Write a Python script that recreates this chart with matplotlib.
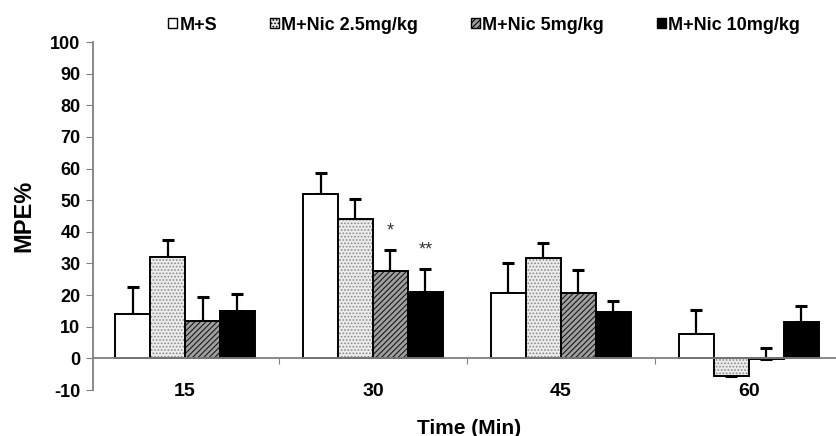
import numpy as np
import matplotlib
matplotlib.use('Agg')
import matplotlib.pyplot as plt
from matplotlib.patches import Patch

plt.rcParams['font.family'] = ['Liberation Sans', 'DejaVu Sans']
plt.rcParams['hatch.linewidth'] = 0.8
plt.rcParams['axes.unicode_minus'] = False

# values (MPE %, mean and upward error)
times = ['15', '30', '45', '60']
groups = ['M+S', 'M+Nic 2.5mg/kg', 'M+Nic 5mg/kg', 'M+Nic 10mg/kg']
ms_mean = [13.9, 51.9, 20.8, 7.8]
ms_err = [8.6, 6.7, 9.4, 7.4]
nic25_mean = [32.1, 44.1, 31.6, -5.7]
nic25_err = [5.4, 6.2, 4.9, 5.2]
nic5_mean = [11.7, 27.6, 20.8, -0.3]
nic5_err = [7.7, 6.8, 7.1, 3.5]
nic10_mean = [15.0, 21.0, 14.7, 11.5]
nic10_err = [5.3, 7.1, 3.5, 5.0]
yticks = list(range(-10, 101, 10))

means = [ms_mean, nic25_mean, nic5_mean, nic10_mean]
errs = [ms_err, nic25_err, nic5_err, nic10_err]
faces = ['white', '#ececec', '#a0a0a0', 'black']
hatches = [None, '.....', '//////', None]
hatch_cols = ['black', '#8a8a8a', '#1a1a1a', 'black']

fig = plt.figure(figsize=(8.37, 4.36), dpi=100)
ax = fig.add_axes([93 / 837, 46 / 436, 1 - 93 / 837, 348 / 436])

x = np.arange(len(times))
w = 0.186
handles = []
for i in range(4):
    pos = x + (i - 1.5) * w
    # pattern fill, then black outline on top
    ax.bar(pos, means[i], w, color=faces[i], edgecolor=hatch_cols[i],
           hatch=hatches[i], linewidth=0, zorder=3)
    ax.bar(pos, means[i], w, fill=False, edgecolor='black', linewidth=1.4,
           zorder=3)
    ax.errorbar(pos, means[i], yerr=[np.zeros(4), np.array(errs[i])],
                fmt='none', ecolor='black', elinewidth=1.6, capsize=4,
                capthick=2.2, zorder=2)
    handles.append(Patch(facecolor=faces[i], edgecolor='black',
                         hatch=hatches[i], linewidth=1.0, label=groups[i]))

# significance marks at 30 min
ax.text(x[1] + 0.5 * w, nic5_mean[1] + nic5_err[1] + 6, '*', ha='center',
        va='center', fontsize=13, color='#333333')
ax.text(x[1] + 1.5 * w, nic10_mean[1] + nic10_err[1] + 6, '**', ha='center',
        va='center', fontsize=13, color='#333333')

ax.set_xlim(-0.49, 3.47)
ax.set_ylim(-10, 100)
ax.set_yticks(yticks)
ax.tick_params(axis='y', direction='out', length=5, color='#808080',
               labelsize=13, pad=4)
for lab in ax.get_yticklabels():
    lab.set_fontweight('bold')

ax.spines['top'].set_visible(False)
ax.spines['right'].set_visible(False)
ax.spines['left'].set_color('#808080')
ax.spines['left'].set_linewidth(1.3)
ax.spines['bottom'].set_position(('data', 0))
ax.spines['bottom'].set_color('#808080')
ax.spines['bottom'].set_linewidth(1.3)
ax.spines['bottom'].set_zorder(4)

ax.set_xticks(x[:-1] + 0.5)
ax.set_xticklabels([])
ax.tick_params(axis='x', which='major', direction='out', length=4,
               color='#808080')
ax.set_xticks(x, minor=True)
ax.set_xticklabels(times, minor=True, fontsize=14, fontweight='bold')
ax.tick_params(axis='x', which='minor', length=0, pad=18)

ax.set_ylabel('MPE%', fontsize=17, fontweight='bold', labelpad=11)
fig.text(469 / 837, 1 - 428 / 436, 'Time (Min)', ha='center', va='center',
         fontsize=15, fontweight='bold')

fig.legend(handles=handles, loc='center',
           bbox_to_anchor=(484 / 837, 1 - 25 / 436), ncol=4,
           frameon=False, handlelength=0.5, handleheight=0.5,
           handletextpad=0.15, columnspacing=2.9,
           prop={'size': 13, 'weight': 'bold'})

fig.savefig('out.png', dpi=100)
